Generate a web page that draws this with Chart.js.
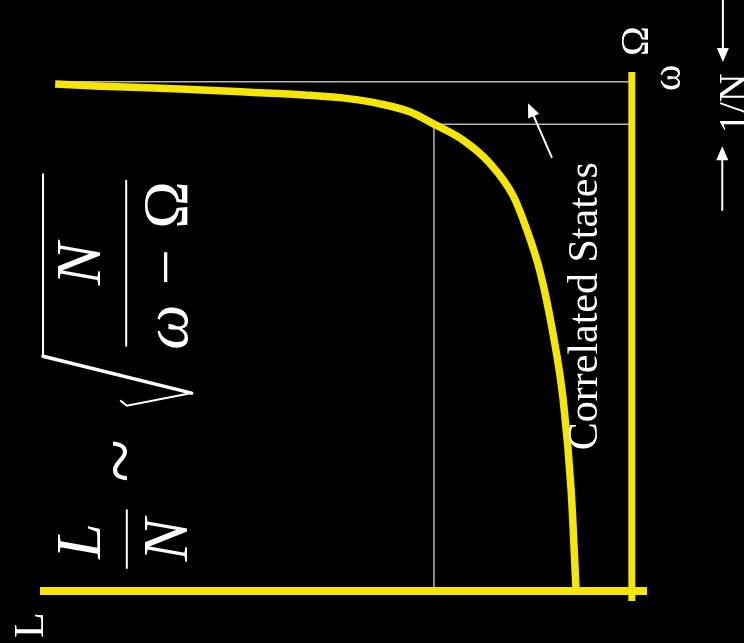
<!DOCTYPE html>
<html>
<head>
<meta charset="utf-8">
<script src="https://cdn.jsdelivr.net/npm/chart.js@4.4.0/dist/chart.umd.min.js"></script>
<style>
  html, body { margin: 0; padding: 0; background: #000; }
  #wrap { width: 744px; height: 643px; }
</style>
</head>
<body>
<div id="wrap"><canvas id="chart" width="744" height="643"></canvas></div>
<script>
// the curve (L across, omega up)
const curveL = [2.5, 9.9, 23.1, 34.6, 43.5, 51.1, 56.0, 61.0, 64.9, 69.7, 74.1, 77.9, 80.2, 82.4, 84.5, 86.2, 87.5, 88.3];
const curveW = [92.0, 91.6, 91.1, 90.5, 90.0, 89.3, 88.4, 86.9, 84.7, 81.8, 77.6, 71.8, 65.5, 57.8, 46.7, 34.5, 18.2, 0.4];

// yellow frame
const baseL = [0, 100];
const baseW = [-0.2, -0.2];
const edgeL = [97.5, 97.5];
const edgeW = [-2, 94.2];

// thin guide lines
const omegaL = [2.8, 97.5];
const omegaW = [92.4, 92.4];
const kneeL = [64.9, 97.5];
const kneeW = [84.7, 84.7];
const dropL = [64.9, 64.9];
const dropW = [84.7, -0.2];

const YELLOW = '#f4e600';
const GREY = '#b4b4b4';
const SERIF = '"Liberation Serif", "DejaVu Serif", serif';

const toPoints = (xs, ys) => xs.map((x, i) => ({ x: x, y: ys[i] }));

const line = (xs, ys, color, width, order) => ({
  data: toPoints(xs, ys),
  showLine: true,
  borderColor: color,
  borderWidth: width,
  pointRadius: 0,
  clip: false,
  order: order
});

// rotated labels, x/y in data units, x is where the baseline sits
const labels = [
  { text: 'Correlated States', x: 91.8, y: 51.6, font: '42px ' + SERIF },
  { text: 'Ω', x: 100.2, y: 99.8, font: '40px ' + SERIF },
  { text: 'ω', x: 105.4, y: 93.1, font: '40px ' + SERIF },
  { text: '1/N', x: 116.3, y: 88.5, font: '40px ' + SERIF },
  { text: 'L', x: 0.5, y: -6.4, font: '42px ' + SERIF },
  // L/N ~ sqrt(N / (w - Omega))
  { text: 'L', x: 9.9, y: 8.9, font: 'italic 64px ' + SERIF },
  { text: 'N', x: 24.2, y: 9.1, font: 'italic 64px ' + SERIF },
  { text: '~', x: 17.6, y: 23.5, font: '80px ' + SERIF },
  { text: 'N', x: 9.9, y: 59.3, font: 'italic 64px ' + SERIF },
  { text: 'Ω', x: 24.2, y: 70.0, font: '64px ' + SERIF },
  { text: '−', x: 24.2, y: 58.7, font: '64px ' + SERIF },
  { text: 'ω', x: 24.2, y: 47.8, font: 'italic 64px ' + SERIF }
];

const strokes = [
  { pts: [[14.3, 14.5], [14.3, 4.0]], w: 2 },             // outer fraction bar
  { pts: [[14.2, 74.4], [14.2, 44.4]], w: 2 },            // inner fraction bar
  { pts: [[0.5, 75.6], [0.5, 42.5]], w: 2 },              // radical overline
  { pts: [[0.5, 42.5], [25.0, 35.8]], w: 3.5 },           // radical long stroke
  { pts: [[25.0, 35.8], [14.3, 33.5], [13.3, 34.4]], w: 2 }
];

const arrows = [
  { from: [84.3, 78.7], to: [80.4, 88.5] },
  { from: [112.5, 107.5], to: [112.5, 96.0] },
  { from: [112.4, 69.1], to: [112.4, 80.7] }
];

const drawArrow = (ctx, x0, y0, x1, y1) => {
  const a = Math.atan2(y1 - y0, x1 - x0);
  const head = 14, half = 6;
  const c = Math.cos(a), s = Math.sin(a);
  ctx.beginPath();
  ctx.moveTo(x0, y0);
  ctx.lineTo(x1 - c * head * 0.7, y1 - s * head * 0.7);
  ctx.stroke();
  ctx.beginPath();
  ctx.moveTo(x1, y1);
  ctx.lineTo(x1 - c * head + s * half, y1 - s * head - c * half);
  ctx.lineTo(x1 - c * head - s * half, y1 - s * head + c * half);
  ctx.closePath();
  ctx.fill();
};

const notes = {
  id: 'notes',
  afterDatasetsDraw(chart) {
    const ctx = chart.ctx;
    const sx = chart.scales.x, sy = chart.scales.y;
    const px = v => sx.getPixelForValue(v);
    const py = v => sy.getPixelForValue(v);
    ctx.save();
    ctx.fillStyle = '#fff';
    ctx.strokeStyle = '#fff';
    ctx.lineCap = 'round';
    strokes.forEach(s => {
      ctx.lineWidth = s.w;
      ctx.beginPath();
      s.pts.forEach((p, i) => i ? ctx.lineTo(px(p[0]), py(p[1])) : ctx.moveTo(px(p[0]), py(p[1])));
      ctx.stroke();
    });
    ctx.lineWidth = 2;
    arrows.forEach(a => drawArrow(ctx, px(a.from[0]), py(a.from[1]), px(a.to[0]), py(a.to[1])));
    labels.forEach(l => {
      ctx.save();
      ctx.translate(px(l.x), py(l.y));
      ctx.rotate(-Math.PI / 2);
      ctx.font = l.font;
      ctx.textAlign = 'center';
      ctx.textBaseline = 'alphabetic';
      ctx.fillText(l.text, 0, 0);
      ctx.restore();
    });
    ctx.restore();
  }
};

new Chart(document.getElementById('chart'), {
  type: 'scatter',
  data: {
    datasets: [
      Object.assign(line(curveL, curveW, YELLOW, 7.5, 1), { cubicInterpolationMode: 'monotone' }),
      line(baseL, baseW, YELLOW, 8, 2),
      line(edgeL, edgeW, YELLOW, 7, 2),
      line(omegaL, omegaW, GREY, 1.5, 3),
      line(kneeL, kneeW, GREY, 1.5, 3),
      line(dropL, dropW, GREY, 1.5, 3)
    ]
  },
  options: {
    responsive: false,
    animation: false,
    layout: { padding: { left: 40, right: 97, top: 40, bottom: 42 } },
    scales: {
      x: { type: 'linear', min: 0, max: 100, display: false },
      y: { type: 'linear', min: -2, max: 100, display: false }
    },
    plugins: { legend: { display: false }, tooltip: { enabled: false } }
  },
  plugins: [notes]
});
</script>
</body>
</html>
